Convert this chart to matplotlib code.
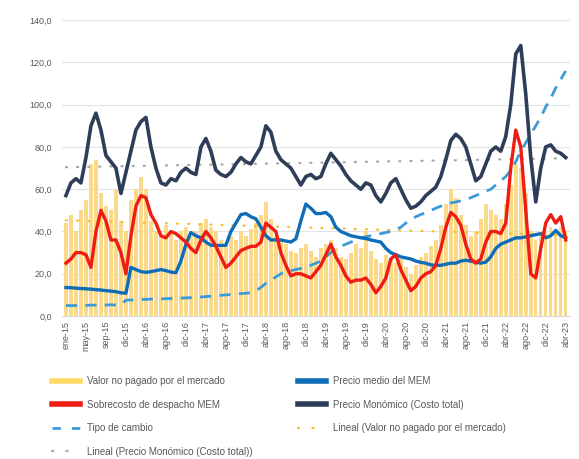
import numpy as np
import matplotlib
matplotlib.use("Agg")
import matplotlib.pyplot as plt
from matplotlib.lines import Line2D

# etiquetas del eje x (una cada 4 meses)
etiquetas = ["ene-15", "may-15", "sep-15", "dic-15", "abr-16", "ago-16", "dic-16",
             "abr-17", "ago-17", "dic-17", "abr-18", "ago-18", "dic-18", "abr-19",
             "ago-19", "dic-19", "abr-20", "ago-20", "dic-20", "abr-21", "ago-21",
             "dic-21", "abr-22", "ago-22", "dic-22", "abr-23"]

# Valor no pagado por el mercado (barras)
valor_no_pagado = [44, 48, 40, 50, 55, 72, 74, 58, 52, 50, 60, 45, 40, 55, 60, 66, 60, 45, 40, 38,
                   43, 40, 36, 40, 42, 38, 40, 44, 46, 42, 40, 36, 34, 38, 36, 40, 38, 41, 44, 48,
                   54, 46, 38, 36, 34, 31, 30, 32, 34, 31, 28, 32, 34, 36, 32, 28, 27, 30, 34, 32,
                   40, 31, 27, 25, 29, 27, 25, 27, 23, 20, 24, 28, 30, 33, 36, 43, 53, 60, 56, 48,
                   43, 38, 40, 46, 53, 50, 48, 46, 53, 62, 72, 70, 58, 40, 36, 38, 40, 42, 40, 42,
                   40]

# Precio medio del MEM
precio_medio = [13.5, 13.4, 13.2, 13.0, 12.9, 12.7, 12.5, 12.3, 12.0, 11.8, 11.5, 11.0, 10.8, 23, 22,
                21, 20.7, 21, 21.5, 22, 21.5, 20.8, 20.5, 26, 34, 39.5, 38, 37, 35, 33.5,
                33.4, 33.4, 33.5, 40, 44, 48, 48.5, 47, 46, 42, 38, 36, 36, 36, 35.5,
                35, 36.5, 45, 53, 51, 48.5, 48.5, 49, 47, 42, 40, 39, 38, 37.5, 37,
                36.7, 36, 35.5, 35, 32, 30, 29, 28, 27.5, 27, 26, 25.4, 25, 24.2, 24,
                24, 24.5, 25, 25, 26, 26.4, 26, 25.5, 25, 25.5, 28, 32, 34, 35, 36,
                37, 37, 37.5, 38, 38.5, 39, 37, 38, 40.5, 38, 37]

# Sobrecosto de despacho MEM
sobrecosto = [25, 27, 30, 30, 29, 23, 40, 50, 45, 36, 36, 30, 20, 38, 52, 57, 56, 48, 44, 38,
              37, 40, 39, 37, 35, 32, 30, 36, 40, 37, 33, 28, 23, 25, 28, 31, 32, 33, 33, 35,
              44, 42, 40, 30, 24, 19, 20, 20, 19, 18, 21, 24, 29, 34, 28, 24, 19, 16, 17, 17,
              18, 15, 11, 14, 18, 27, 29, 22, 17, 12, 14, 18, 20, 21, 24, 32, 42, 49, 47, 43,
              34, 27, 25, 27, 35, 40, 40, 39, 44, 70, 88, 80, 50, 20, 18, 32, 44, 48, 44, 47,
              36]

# Precio Monómico (Costo total)
monomico = [57, 63, 65, 63, 75, 90, 96, 88, 76, 73, 70, 58, 68, 78, 88, 92, 94, 80, 70, 63,
            62, 65, 64, 68, 70, 68, 67, 80, 84, 78, 69, 67, 66, 68, 72, 75, 73, 72, 76, 80,
            90, 87, 78, 74, 72, 70, 66, 62, 66, 67, 65, 66, 72, 77, 74, 71, 67, 64, 62, 60,
            63, 62, 57, 54, 58, 63, 65, 60, 55, 51, 52, 54, 57, 59, 61, 66, 74, 83, 86, 84,
            80, 72, 64, 66, 72, 78, 80, 78, 85, 100, 124, 128, 105, 75, 54, 70, 80, 81, 78, 77,
            75]

# Tipo de cambio
tipo_cambio = [5.0, 4.9, 5.0, 5.1, 5.0, 5.2, 5.1, 5.0, 5.2, 5.3, 5.2, 5.3, 7.5, 7.6, 7.7, 7.8, 7.9, 8.0, 8.0, 8.1,
               8.2, 8.3, 8.4, 8.5, 8.6, 8.7, 8.8, 9.0, 9.2, 9.4, 9.6, 9.8, 10.0, 10.2, 10.4, 10.6, 10.8, 11, 12, 13.5,
               15.5, 17, 18.5, 20, 21, 21.5, 22, 22.5, 23, 24, 25, 26, 28, 30, 32, 33, 34, 35, 36, 37,
               37.5, 38, 38.5, 39, 39.5, 40, 41, 42, 44, 45.5, 47, 48, 49, 50, 51, 52, 53, 53.5, 54, 54.5,
               55, 56, 57, 58, 59, 60, 62, 64, 66, 69, 73, 78, 82, 86, 90, 94, 99, 103, 108, 112,
               116]

x = np.arange(len(monomico))

# tendencias lineales (como en Excel)
tend_valor = np.polyval(np.polyfit(x, valor_no_pagado, 1), x)
tend_mono = np.polyval(np.polyfit(x, monomico, 1), x)

plt.rcParams["font.family"] = "Liberation Sans"
plt.rcParams["font.size"] = 7

col_amarillo = "#FAD98A"
col_rojo = "#EE1C13"
col_azul = "#0E6DB8"
col_marino = "#2F3E58"
col_celeste = "#3A9BD8"
col_gris = "#A6A6A6"
col_texto = "#595959"

fig = plt.figure(figsize=(5.79, 4.59), dpi=100)
ax = fig.add_axes([0.107, 0.3115, 0.877, 0.6445])

ax.bar(x, valor_no_pagado, width=0.7, color=col_amarillo, zorder=1)
ax.plot(x, tend_mono, color=col_gris, lw=1.6, ls=(0, (0.5, 4.5)), dash_capstyle="round", zorder=2)
ax.plot(x, tend_valor, color="#F2C230", lw=1.6, ls=(0, (0.5, 4.5)), dash_capstyle="round", zorder=2)
ax.plot(x, tipo_cambio, color=col_celeste, lw=2.0, ls=(0, (4, 3)), zorder=3)
ax.plot(x, precio_medio, color=col_azul, lw=2.4, zorder=4)
ax.plot(x, sobrecosto, color=col_rojo, lw=2.4, zorder=5)
ax.plot(x, monomico, color=col_marino, lw=2.6, zorder=6)

ax.set_ylim(0, 140)
ax.set_xlim(-0.8, len(x) - 0.2)
ax.set_yticks(np.arange(0, 141, 20))
ax.set_yticklabels([f"{v:.1f}".replace(".", ",") for v in np.arange(0, 141, 20)])
ax.set_xticks(np.arange(0, len(x), 4))
ax.set_xticklabels(etiquetas, rotation=90)
ax.tick_params(axis="both", length=0, colors=col_texto, labelsize=6.5)
ax.tick_params(axis="y", pad=7)
ax.grid(axis="y", color="#E3E3E3", lw=0.8)
ax.set_axisbelow(True)
for s in ["top", "right", "left"]:
    ax.spines[s].set_visible(False)
ax.spines["bottom"].set_color("#D9D9D9")

# leyenda (orden por columnas)
handles = [
    Line2D([], [], color="#FFD966", lw=4),
    Line2D([], [], color=col_rojo, lw=4),
    Line2D([], [], color=col_celeste, lw=2.0, ls=(0, (3, 4))),
    Line2D([], [], color=col_gris, lw=1.6, ls=(0, (0.5, 6)), dash_capstyle="round"),
    Line2D([], [], color=col_azul, lw=4),
    Line2D([], [], color=col_marino, lw=4),
    Line2D([], [], color="#F2C230", lw=1.6, ls=(0, (0.5, 6)), dash_capstyle="round"),
]
labels = [
    "Valor no pagado por el mercado",
    "Sobrecosto de despacho MEM",
    "Tipo de cambio",
    "Lineal (Precio Monómico (Costo total))",
    "Precio medio del MEM",
    "Precio Monómico (Costo total)",
    "Lineal (Valor no pagado por el mercado)",
]
fig.legend(handles, labels, ncol=2, loc="upper left", bbox_to_anchor=(0.075, 0.2),
           frameon=False, fontsize=7, handlelength=2.9, handletextpad=0.7,
           labelspacing=1.4, columnspacing=4.6, labelcolor=col_texto)

fig.savefig("out.png", dpi=100)
